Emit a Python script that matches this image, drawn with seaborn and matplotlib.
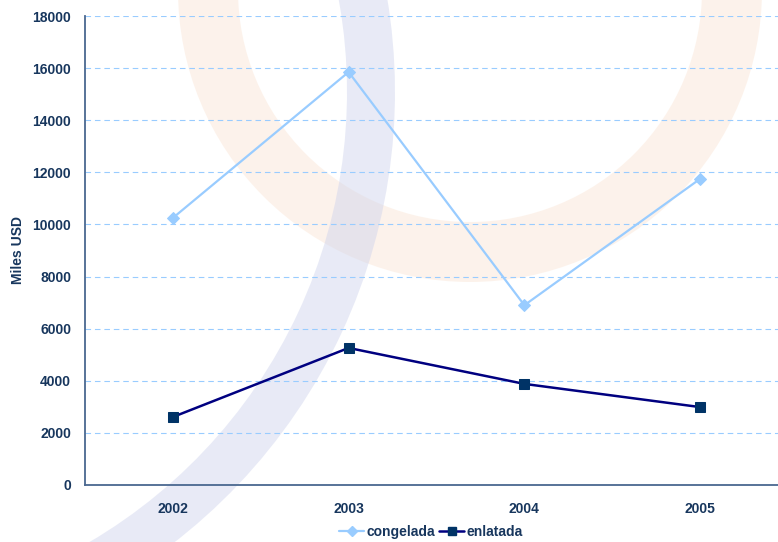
import matplotlib
matplotlib.use("Agg")
import matplotlib.pyplot as plt
from matplotlib.patches import Wedge
import pandas as pd
import seaborn as sns

# Export values (thousand USD) by product form
years = ["2002", "2003", "2004", "2005"]
congelada = [10250, 15850, 6900, 11750]
enlatada = [2610, 5260, 3880, 2990]
series_names = ["congelada", "enlatada"]
y_ticks = [0, 2000, 4000, 6000, 8000, 10000, 12000, 14000, 16000, 18000]

df = pd.DataFrame({
    "Año": years * 2,
    "valor": congelada + enlatada,
    "serie": [series_names[0]] * len(years) + [series_names[1]] * len(years),
})

sns.set_theme(style="white")
plt.rcParams["font.family"] = ["Liberation Sans", "DejaVu Sans"]

W, H = 778, 542
fig = plt.figure(figsize=(W / 100, H / 100), dpi=100)
fig.patch.set_facecolor("white")

# Decorative watermark arcs behind the plot, in pixel units (y grows downward)
bg = fig.add_axes([0, 0, 1, 1], zorder=0)
bg.set_xlim(0, W)
bg.set_ylim(H, 0)
bg.axis("off")
bg.add_patch(Wedge((470, -10), 292, 0, 180, width=60,
                   facecolor="#f8d6bd", edgecolor="none", alpha=0.3))
bg.add_patch(Wedge((-175, 92), 570, -12, 62, width=48,
                   facecolor="#cdd2ec", edgecolor="none", alpha=0.45))

text_color = "#17365d"
axis_color = "#4a6890"

ax = fig.add_axes([85 / W, 57 / H, (788 - 85) / W, (485 - 16) / H], zorder=1)
ax.set_facecolor("none")

palette = {"congelada": "#99ccff", "enlatada": "#000080"}
sns.lineplot(data=df, x="Año", y="valor", hue="serie", style="serie",
             palette=palette, markers={"congelada": "D", "enlatada": "s"},
             dashes=False, ax=ax, linewidth=2, sort=False, legend=False,
             zorder=3)

# marker styling
lines = ax.get_lines()
lines[0].set_markersize(6)
lines[0].set_markerfacecolor("#99ccff")
lines[0].set_markeredgecolor("#99ccff")
lines[0].set_linewidth(1.6)
lines[1].set_markersize(6.5)
lines[1].set_markerfacecolor("#003366")
lines[1].set_markeredgecolor("#003366")
lines[1].set_linewidth(1.8)

ax.set_xlim(-0.5, 3.5)
ax.set_ylim(0, 18000)
ax.set_yticks(y_ticks)
ax.set_yticklabels([str(v) for v in y_ticks])
ax.set_xticks(range(len(years)))
ax.set_xticklabels(years)
ax.set_xticks([-0.5, 0.5, 1.5, 2.5, 3.5], minor=True)

ax.yaxis.grid(True, color="#99ccff", linestyle=(0, (5, 3.5)), linewidth=0.8)
ax.xaxis.grid(False)
ax.set_axisbelow(True)

for side in ["top", "right"]:
    ax.spines[side].set_visible(False)
for side in ["left", "bottom"]:
    ax.spines[side].set_color(axis_color)
    ax.spines[side].set_linewidth(1.3)

ax.tick_params(axis="y", which="major", direction="out", length=4,
               width=1.2, color=axis_color, pad=6,
               labelsize=10, labelcolor=text_color)
ax.tick_params(axis="x", which="major", length=0, pad=12,
               labelsize=10, labelcolor=text_color)
ax.tick_params(axis="x", which="minor", direction="out", length=4,
               width=1.2, color=axis_color)
for lab in ax.get_xticklabels() + ax.get_yticklabels():
    lab.set_fontweight("bold")

ax.set_xlabel("")
ax.set_ylabel("")
fig.text(18 / W, 1 - 250 / H, "Miles USD", rotation=90, ha="center",
         va="center", fontsize=10, fontweight="bold", color=text_color)

handles = [
    plt.Line2D([], [], color="#99ccff", marker="D", markersize=5,
               linewidth=1.6),
    plt.Line2D([], [], color="#000080", marker="s", markersize=6,
               markerfacecolor="#003366", markeredgecolor="#003366",
               linewidth=1.8),
]
leg = fig.legend(handles, series_names, loc="center",
                 bbox_to_anchor=(431 / W, 1 - 532 / H), ncol=2,
                 frameon=False, handlelength=1.8, handletextpad=0.15,
                 columnspacing=0.3, prop={"size": 10, "weight": "bold"})
for t in leg.get_texts():
    t.set_color(text_color)

fig.savefig("out.png", dpi=100)
